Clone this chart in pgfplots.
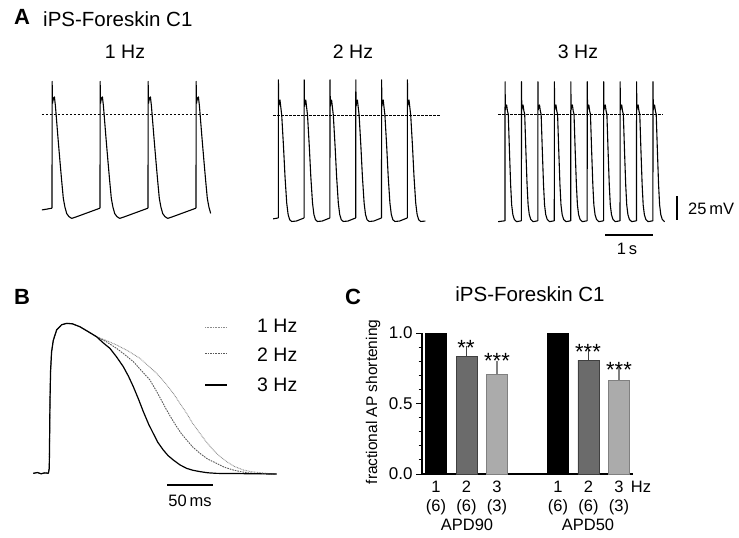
\documentclass[border=0pt]{standalone}
\usepackage{fontspec}
\setmainfont{Liberation Sans}
\usepackage{pgfplots}
\usepackage{pgfplotstable}
\pgfplotsset{compat=1.18}

% one stimulated cycle per rate: t (s, from stimulus), v (mV)
\pgfplotstableread{
t v
0 -107
0.003 37
0.01 12
0.03 18
0.05 19.5
0.07 10
0.085 0
0.12 -24
0.16 -50
0.2 -75
0.236 -96
0.27 -106
0.306 -113
0.35 -116.5
0.41 -118.6
0.5 -117
0.7 -113
0.85 -110
1.0 -107
}\cycA
\pgfplotstableread{
t v
0 -117
0.002 40
0.008 10
0.02 15
0.033 17
0.05 8
0.066 0
0.1 -35
0.13 -70
0.163 -100
0.19 -113
0.22 -119
0.26 -121
0.35 -120.5
0.5 -117
}\cycB
\pgfplotstableread{
t v
0 -121
0.002 37
0.008 5
0.02 9
0.034 10.6
0.05 4
0.067 0
0.09 -40
0.115 -80
0.136 -103
0.16 -114
0.19 -119.5
0.237 -122
0.3333 -121
}\cycC

\newcommand{\fs}[1]{\fontsize{#1}{#1}\selectfont}
\tikzset{txt/.style={inner sep=0pt}}
\pgfplotsset{
  apanel/.style={scale only axis, hide axis, clip=false, anchor=south west,
    ymin=-130, ymax=45, height=154pt},
  tr/.style={black, line width=1.1pt, line join=round},
}

\begin{document}
\begin{tikzpicture}
\path[use as bounding box] (0pt,0pt) rectangle (739pt,-538pt);

% ---------- A: 1 Hz
\begin{axis}[apanel, at={(40pt,-228.4pt)}, xmin=-0.25, xmax=3.4, width=175.2pt]
\addplot[tr] coordinates {(-0.21,-109) (-0.1,-108) (0,-107)};
\pgfplotsinvokeforeach{0,1,2}{\addplot[tr] table[x expr=\thisrow{t}+#1, y=v]{\cycA};}
\addplot[tr, restrict x to domain=2.9:3.33] table[x expr=\thisrow{t}+3, y=v]{\cycA};
\draw[dash pattern=on 2.5pt off 1.5pt, line width=0.7pt] (axis cs:-0.21,0) -- (axis cs:3.27,0);
\end{axis}

% ---------- A: 2 Hz
\begin{axis}[apanel, at={(270.56pt,-229.4pt)}, xmin=-0.15, xmax=3.2, width=172.86pt]
\addplot[tr] coordinates {(-0.1,-118) (0,-117)};
\pgfplotsinvokeforeach{0,0.5,1,1.5,2}{\addplot[tr] table[x expr=\thisrow{t}+#1, y=v]{\cycB};}
\addplot[tr, restrict x to domain=2.4:2.98] table[x expr=\thisrow{t}+2.5, y=v]{\cycB};
\draw[dash pattern=on 2.5pt off 1.5pt, line width=0.7pt] (axis cs:-0.1,0) -- (axis cs:3.13,0);
\end{axis}

% ---------- A: 3 Hz
\begin{axis}[apanel, at={(495.1pt,-228.7pt)}, xmin=-0.2, xmax=3.6, width=187.4pt]
\addplot[tr] coordinates {(-0.14,-122) (0,-121)};
\pgfplotsinvokeforeach{0,0.3333,0.6667,1,1.3333,1.6667,2,2.3333,2.6667}{\addplot[tr] table[x expr=\thisrow{t}+#1, y=v]{\cycC};}
\addplot[tr, restrict x to domain=2.9:3.27] table[x expr=\thisrow{t}+3, y=v]{\cycC};
\draw[dash pattern=on 2.5pt off 1.5pt, line width=0.7pt] (axis cs:-0.14,0) -- (axis cs:3.2,0);
\end{axis}

% scale bars A
\draw[line width=1.4pt] (677pt,-196pt) -- (677pt,-220pt);
\draw[line width=1.4pt] (605pt,-235pt) -- (653pt,-235pt);
\node[txt, anchor=west, font=\fs{16.5}] at (688pt,-209pt) {25\,mV};
\node[txt, font=\fs{16.5}] at (627pt,-249pt) {1\,s};

% headings A
\node[txt, font=\bfseries\fs{22}] at (22pt,-17pt) {A};
\node[txt, anchor=west, font=\fs{20.5}] at (43pt,-19pt) {iPS-Foreskin C1};
\node[txt, font=\fs{19.5}] at (125pt,-52pt) {1 Hz};
\node[txt, font=\fs{19.5}] at (353pt,-52pt) {2 Hz};
\node[txt, font=\fs{19.5}] at (578pt,-52pt) {3 Hz};

% ---------- B
\begin{axis}[scale only axis, hide axis, clip=false, anchor=south west,
  at={(30.9pt,-479.25pt)}, width=248.4pt, height=162.5pt,
  xmin=-20, xmax=250, ymin=-85, ymax=45]
\addplot[black!45, line width=0.9pt, dash pattern=on 0.8pt off 0.8pt] coordinates {
(-17.4,-80.3) (-13,-79.6) (-9,-80.6) (-5,-79.9) (-1,-80.2) (0,-76) (0.7,-25) (1.4,2) (2.5,17) (4.3,26) (8,34.5) (13.4,38.6) (18.8,39.7) (25,39.4) (33.3,37) (42,33.2) (51.4,29)
(62,26) (73.2,22.4) (86,17.5) (98.6,11.7) (108,5.5) (116.7,-0.3) (126,-8) (134.8,-16.3) (142,-24.3) (149.3,-32.3) (156,-40.5) (163.8,-48.3) (171,-55.5) (178.3,-61.6) (185,-66.5) (192.8,-70.9) (201,-74.7) (210.9,-77.6) (220,-79) (228.9,-79.7) (238,-80.4) (247.1,-80.8)};
\addplot[black!65, line width=0.9pt, dash pattern=on 1.6pt off 1pt] coordinates {
(-17.4,-80.3) (-13,-79.6) (-9,-80.6) (-5,-79.9) (-1,-80.2) (0,-76) (0.7,-25) (1.4,2) (2.5,17) (4.3,26) (8,34.5) (13.4,38.6) (18.8,39.7) (25,39.4) (33.3,37) (42,33.2) (51.4,29)
(62,25) (73.2,19.7) (82,14.7) (91.3,9.1) (100,2) (109.4,-5.6) (118,-16.5) (127.5,-29.6) (133,-36.5) (138.4,-42.9) (143.5,-48.5) (149.3,-53.6) (156,-59.3) (163.8,-64.3) (172,-68.8) (181.9,-72.3) (190,-75.3) (200,-77.6) (210,-79.2) (221.7,-80.3) (235,-80.6) (247.1,-80.8)};
\addplot[black, line width=1.2pt, line join=round] coordinates {
(-17.4,-80.3) (-13,-79.6) (-9,-80.6) (-5,-79.9) (-1,-80.2) (0,-76) (0.7,-25) (1.4,2) (2.5,17) (4.3,26) (8,34.5) (13.4,38.6) (18.8,39.7) (25,39.4) (33.3,37) (42,33.2) (51.4,29)
(58,24.5) (65.9,19.7) (73,13) (80.4,5.1) (86,-2.5) (91.3,-10.9) (97,-21) (102.2,-30.9) (108,-41) (113,-48.3) (118,-55.5) (123.9,-61.6) (129,-66) (134.8,-69.6) (142,-73.5) (149.3,-76.3) (156,-77.8) (163.8,-78.9) (172,-79.8) (181.9,-80.3) (200,-80.4) (220,-80.6) (247.1,-80.8)};
\end{axis}

\node[txt, font=\bfseries\fs{22}] at (22pt,-297pt) {B};
\draw[black!45, line width=0.9pt, dash pattern=on 0.8pt off 0.8pt] (205pt,-327pt) -- (227pt,-327pt);
\draw[black!65, line width=0.9pt, dash pattern=on 1.6pt off 1pt] (205pt,-353pt) -- (227pt,-353pt);
\draw[black, line width=1.2pt] (205pt,-385pt) -- (227pt,-385pt);
\node[txt, anchor=west, font=\fs{19.5}] at (257pt,-326pt) {1 Hz};
\node[txt, anchor=west, font=\fs{19.5}] at (257pt,-355pt) {2 Hz};
\node[txt, anchor=west, font=\fs{19.5}] at (257pt,-385pt) {3 Hz};
\draw[line width=1.4pt] (167pt,-485pt) -- (213pt,-485pt);
\node[txt, font=\fs{16.5}] at (190pt,-501pt) {50\,ms};

% ---------- C
\begin{axis}[scale only axis, anchor=south west, at={(422pt,-474pt)},
  width=211pt, height=141pt,
  xmin=-0.46, xmax=6.46, ymin=0, ymax=1,
  axis x line*=bottom, axis y line*=left,
  axis line style={-, line width=1.2pt},
  ybar, bar width=21pt,
  ytick={0,0.5,1}, minor y tick num=4,
  tick align=outside, major tick length=6pt, minor tick length=3.5pt,
  tick style={line width=0.9pt, black},
  yticklabel style={font=\fs{17}, /pgf/number format/.cd, fixed, fixed zerofill, precision=1, assume math mode=true},
  xtick={0,1,2,4,5,6},
  xticklabels={{1\\(6)},{2\\(6)},{3\\(3)},{1\\(6)},{2\\(6)},{3\\(3)}},
  xticklabel style={align=center, inner sep=0pt, yshift=-1pt, font=\fontsize{16.5}{18.5}\selectfont},
  major x tick style={draw=none},
]
\addplot[bar shift=0pt, fill=black, draw=black] coordinates {(0,1) (4,1)};
\addplot[bar shift=0pt, fill=black!58, draw=black!75, line width=0.8pt,
  error bars/.cd, y dir=plus, y explicit,
  error bar style={black!75, line width=1.2pt},
  error mark options={black!75, line width=1.2pt, mark size=5pt}]
  coordinates {(1,0.835) +- (0,0.038) (5,0.807) +- (0,0.04)};
\addplot[bar shift=0pt, fill=black!33, draw=black!50, line width=0.8pt,
  error bars/.cd, y dir=plus, y explicit,
  error bar style={black!50, line width=1.2pt},
  error mark options={black!50, line width=1.2pt, mark size=5pt}]
  coordinates {(2,0.706) +- (0,0.063) (6,0.661) +- (0,0.064)};
\end{axis}

\node[txt, font=\bfseries\fs{22}] at (353pt,-297pt) {C};
\node[txt, font=\fs{20.5}] at (530pt,-294pt) {iPS-Foreskin C1};
\node[txt, rotate=90, font=\fs{15.5}] at (373pt,-402pt) {fractional AP shortening};
\node[txt, anchor=base, font=\fs{22}] at (466pt,-355.6pt) {**};
\node[txt, anchor=base, font=\fs{22}] at (497pt,-368.6pt) {***};
\node[txt, anchor=base, font=\fs{22}] at (588pt,-359.4pt) {***};
\node[txt, anchor=base, font=\fs{22}] at (619pt,-377pt) {***};
\node[txt, font=\fs{16.5}] at (641pt,-487pt) {Hz};
\node[txt, font=\fs{16.5}] at (467pt,-525pt) {APD90};
\node[txt, font=\fs{16.5}] at (588pt,-525pt) {APD50};
\end{tikzpicture}
\end{document}
